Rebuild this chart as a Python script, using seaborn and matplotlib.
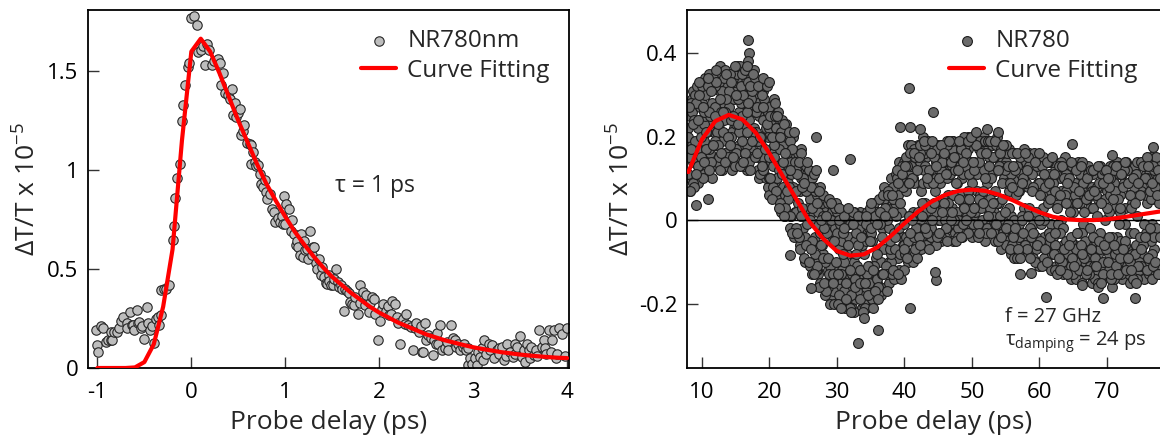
import numpy as np
import pandas as pd
import matplotlib
matplotlib.use("Agg")
import matplotlib.pyplot as plt
import seaborn as sns

# ---------------- Left panel: NR780nm, fast decay ----------------
left_delay = [-1.02, -1.0, -0.99, -0.96, -0.94, -0.91, -0.89, -0.86, -0.85, -0.84, -0.82, -0.79, -0.77, -0.75,
              -0.73, -0.69, -0.68, -0.65, -0.63, -0.62, -0.61, -0.58, -0.57, -0.56, -0.54, -0.52, -0.5, -0.47,
              -0.46, -0.44, -0.42, -0.4, -0.38, -0.36, -0.34, -0.32, -0.32, -0.29, -0.27, -0.24,
              -0.2, -0.18, -0.17, -0.15, -0.12, -0.1, -0.085, -0.07, -0.04, -0.025, 0.0, 0.03, 0.06, 0.07,
              0.1, 0.12, 0.15, 0.17, 0.19, 0.22, 0.24, 0.28, 0.31, 0.32, 0.34, 0.36,
              0.39, 0.41, 0.43, 0.44, 0.47, 0.48, 0.5, 0.52, 0.53, 0.55, 0.56, 0.59, 0.62, 0.63, 0.64, 0.66,
              0.68, 0.69, 0.71, 0.73, 0.74, 0.76, 0.78, 0.8, 0.81, 0.84, 0.86, 0.88, 0.89, 0.92, 0.94, 0.96,
              0.98, 0.99, 1.0, 1.01, 1.04, 1.06, 1.07, 1.09, 1.11, 1.13, 1.14, 1.16, 1.17, 1.19, 1.2, 1.21,
              1.23, 1.24, 1.26, 1.28, 1.29, 1.31, 1.33, 1.34, 1.36, 1.38, 1.39, 1.41, 1.43, 1.44, 1.46, 1.47,
              1.49, 1.51, 1.52, 1.54, 1.56, 1.57, 1.59, 1.6, 1.62, 1.64, 1.66, 1.68, 1.69, 1.71, 1.73, 1.74,
              1.77, 1.79, 1.8, 1.83, 1.85, 1.86, 1.89, 1.9, 1.92, 1.94, 1.96, 1.99, 2.01, 2.03, 2.04, 2.07,
              2.09, 2.1, 2.12, 2.14, 2.17, 2.19, 2.2, 2.22, 2.25, 2.27, 2.28, 2.31, 2.34, 2.36, 2.38, 2.39,
              2.42, 2.44, 2.45, 2.47, 2.49, 2.5, 2.52, 2.55, 2.57, 2.58, 2.6, 2.62, 2.63, 2.65, 2.67, 2.7,
              2.72, 2.73, 2.76, 2.79, 2.81, 2.82, 2.84, 2.86, 2.89, 2.9, 2.92, 2.94, 2.95, 2.97, 2.99, 3.02,
              3.04, 3.05, 3.07, 3.09, 3.1, 3.12, 3.14, 3.17, 3.18, 3.2, 3.22, 3.25, 3.27, 3.28, 3.31, 3.33,
              3.35, 3.36, 3.39, 3.42, 3.44, 3.45, 3.47, 3.5, 3.52, 3.54, 3.55, 3.57, 3.59, 3.6, 3.62, 3.65,
              3.67, 3.68, 3.7, 3.73, 3.75, 3.76, 3.78, 3.81, 3.83, 3.84, 3.86, 3.88, 3.89, 3.91, 3.95, 3.98,
              4.0]
left_signal = [0.19, 0.116, 0.082, 0.21, 0.2, 0.133, 0.14, 0.14, 0.183, 0.14, 0.183, 0.18, 0.2, 0.24,
               0.26, 0.226, 0.2, 0.285, 0.215, 0.217, 0.19, 0.293, 0.23, 0.234, 0.2, 0.21, 0.145, 0.306,
               0.226, 0.19, 0.21, 0.128, 0.246, 0.26, 0.217, 0.27, 0.394, 0.4, 0.4, 0.42,
               0.646, 0.72, 0.86, 0.96, 1.03, 1.25, 1.33, 1.43, 1.52, 1.54, 1.77, 1.78, 1.735, 1.6,
               1.61, 1.63, 1.53, 1.64, 1.61, 1.53, 1.55, 1.56, 1.54, 1.43, 1.49, 1.39,
               1.38, 1.36, 1.41, 1.28, 1.34, 1.27, 1.29, 1.31, 1.18, 1.2, 1.23, 1.14, 1.135, 1.03, 1.125, 1.09,
               1.04, 1.02, 1.025, 0.98, 0.93, 0.915, 0.95, 0.89, 0.855, 0.88, 0.805, 0.79, 0.74, 0.76, 0.74, 0.77,
               0.73, 0.87, 0.73, 0.83, 0.805, 0.695, 0.75, 0.68, 0.62, 0.64, 0.61, 0.57, 0.68, 0.56, 0.64, 0.595,
               0.6, 0.55, 0.695, 0.57, 0.61, 0.61, 0.53, 0.5, 0.55, 0.47, 0.51, 0.46, 0.43, 0.425, 0.47, 0.44,
               0.42, 0.42, 0.45, 0.5, 0.435, 0.41, 0.42, 0.4, 0.29, 0.4, 0.39, 0.38, 0.335, 0.325, 0.32, 0.36,
               0.275, 0.33, 0.42, 0.385, 0.32, 0.37, 0.285, 0.33, 0.36, 0.35, 0.275, 0.14, 0.24, 0.3, 0.325, 0.29,
               0.315, 0.27, 0.275, 0.34, 0.325, 0.26, 0.23, 0.12, 0.25, 0.22, 0.275, 0.215, 0.205, 0.09, 0.2, 0.23,
               0.18, 0.21, 0.08, 0.08, 0.23, 0.14, 0.165, 0.15, 0.064, 0.14, 0.12, 0.175, 0.12, 0.215, 0.09, 0.1,
               0.13, 0.09, 0.215, 0.15, 0.14, 0.105, 0.12, 0.09, 0.105, 0.12, 0.09, 0.015, 0.1, 0.05, 0.02, 0.05,
               0.015, 0.08, 0.055, 0.1, 0.04, 0.14, 0.07, 0.12, 0.09, 0.115, 0.05, 0.09, 0.1, 0.07, 0.105, 0.04,
               0.06, 0.12, 0.08, 0.055, 0.12, 0.07, 0.105, 0.16, 0.055, 0.09, 0.03, 0.12, 0.09, 0.05, 0.105, 0.064,
               0.09, 0.06, 0.19, 0.105, 0.14, 0.1, 0.07, 0.19, 0.08, 0.14, 0.19, 0.05, 0.07, 0.2, 0.17, 0.06,
               0.2]

left_fit_delay = [-1.0, -0.9, -0.8, -0.7, -0.6, -0.5, -0.4, -0.3, -0.2, -0.1, 0.0, 0.1, 0.2, 0.3, 0.4, 0.5,
                  0.6, 0.7, 0.8, 0.9, 1.0, 1.1, 1.2, 1.3, 1.4, 1.5, 1.6, 1.7, 1.8, 1.9, 2.0, 2.1, 2.2, 2.3,
                  2.4, 2.5, 2.6, 2.7, 2.8, 2.9, 3.0, 3.1, 3.2, 3.3, 3.4, 3.5, 3.6, 3.7, 3.8, 3.9, 4.0]
left_fit_signal = [0.0, 0.0, 0.0, 0.0, 0.003, 0.03, 0.12, 0.31, 0.6, 1.15, 1.6, 1.665, 1.6, 1.49, 1.37, 1.25,
                   1.14, 1.03, 0.93, 0.845, 0.765, 0.69, 0.625, 0.565, 0.51, 0.46, 0.42, 0.38, 0.345, 0.31,
                   0.28, 0.255, 0.23, 0.21, 0.19, 0.17, 0.155, 0.14, 0.128, 0.116, 0.105, 0.096, 0.088, 0.08,
                   0.074, 0.068, 0.063, 0.059, 0.055, 0.052, 0.05]

left_xticks = [-1, 0, 1, 2, 3, 4]
left_yticks = [0, 0.5, 1, 1.5]
left_yticklabels = ["0", "0.5", "1", "1.5"]

# ---------------- Right panel: NR780, acoustic oscillation ----------------
# two interleaved delay grids (ps); scan values in units of 0.01 (x 10^-5)
right_delay_grid_a = np.arange(8.0, 78.01, 0.25)
right_delay_grid_b = np.arange(8.125, 78.0, 0.25)
right_scan1_centi = [
    22, 10, 29, 17, 16, 29, 22, 10, 28, 19, 34, 15, 23, 32, 13, 27, 18, 35, 23, 31, 12, 27, 32, 20,
    27, 17, 35, 22, 31, 14, 26, 34, 19, 28, 15, 35, 24, 17, 31, 22, 30, 12, 25, 18, 31, 14, 22, 8,
    22, 14, 26, 9, 13, 24, 5, 18, 18, 6, 23, 9, -2, 11, 16, 2, 14, 4, -6, 10, -2, 13, 2, -6,
    5, -10, 2, -4, 6, -10, -3, -16, -8, 2, -15, -2, -3, -19, 1, -12, -16, -7, 2, -10, -5, -21, -12, -1,
    -16, 0, -10, -19, -3, -14, 2, -21, -8, -17, -3, -11, -18, -5, 1, -13, 2, -7, -18, -2, -7, 6, -12, -2,
    10, -8, 3, -13, -9, 14, 2, -4, 14, -4, 18, 1, -8, 10, 13, 1, 18, 0, 7, -5, 4, 15, -2, 18,
    11, -5, 7, 14, 0, 9, 17, 3, 16, -2, 6, 13, 3, 19, -3, 9, 15, 6, 1, 18, -3, 12, 17, 3,
    9, 0, 20, 7, 14, -4, 11, 16, 0, 17, 4, 12, 18, 2, 7, -2, 4, 14, -5, 10, 14, -2, 7, -8,
    0, 16, -5, 10, 7, -8, 12, 3, -5, 8, 16, -2, 13, 1, -7, 7, -11, 9, 3, -4, 8, -7, 14, -1,
    -4, 12, -11, 4, 10, 0, -6, 15, -10, 4, 8, -14, 2, -6, 13, -3, -12, 7, -1, 10, 5, -9, 3, -15,
    11, -5, -12, 5, -3, 8, -14, 0, 7, -8, 13, -6, -10, 3, -4, 11, 6, -14, 9, -1, -7, 12, -3, 4,
    13, -9, 1, -12, -4, 8, -14, 11, 4, -10, 15, -1, -7, 10, -3, 13, 7]
right_scan2_centi = [
    11, 25, 18, 31, 30, 17, 9, 24, 13, 23, 30, 17, 35, 16, 28, 21, 27, 14, 33, 19, 31, 24, 16, 35,
    14, 30, 21, 33, 23, 35, 18, 28, 33, 22, 30, 12, 35, 15, 27, 19, 21, 28, 10, 32, 24, 11, 28, 20,
    6, 24, 13, 29, 22, 8, 17, 2, 8, 21, 2, 12, 14, 6, 20, -3, -2, 16, 7, 1, 11, -10, 7, 3,
    -11, 10, -6, 7, -1, -13, 8, -6, 3, -18, -3, -12, -11, 2, -17, -2, 2, -14, -20, -5, -17, 0, -8, -13,
    -5, -21, 2, -13, -11, -2, -18, -6, 1, -21, -13, -2, -3, -15, 4, -9, -15, 0, -10, 5, 5, -16, 0, -10,
    -10, 5, -3, 11, 6, -12, 10, -6, -6, 7, -10, 11, 18, 2, 9, -5, -2, 14, -7, 9, 16, 2, 9, -5,
    -2, 18, 4, 10, 15, -3, 12, 5, -4, 10, 17, 2, 13, 6, -1, 18, -2, 13, 10, 4, 18, 1, 7, 14,
    3, 19, -3, 11, 17, 6, 0, 20, -5, 9, 15, 1, 11, -3, 19, 4, 16, 0, 5, 13, -4, 9, 17, 1,
    12, -9, 6, -3, -1, 14, -7, 9, 14, -6, 3, -9, -1, 16, -4, 9, 12, -1, -10, 6, -6, 4, 11, -12,
    14, -6, 6, -1, -10, 7, -2, 11, 7, -12, 12, -5, -9, 9, -14, 4, 11, -3, 6, -10, -6, 13, -2, 8,
    3, -14, 8, -8, 13, -6, -11, 5, -13, 2, 6, -16, 9, -8, 14, -1, -5, 11, -11, 3, 12, -13, 6, -8,
    -3, 8, -14, 10, 7, -8, 13, -3, -12, 11, -5, 5, 12, -2, 9, -13, -4]
right_scan3_centi = [
    20, 7, 26, 14, 19, 32, 13, 27, 32, 11, 25, 21, 17, 25, 10, 32, 32, 21, 15, 37, 19, 34, 26, 13,
    31, 24, 12, 29, 17, 37, 21, 32, 25, 13, 34, 18, 14, 29, 21, 36, 26, 15, 33, 20, 15, 29, 10, 26,
    27, 16, 8, 20, 7, 26, 12, 21, 14, 1, 20, 5, 19, 1, 8, 14, 2, 12, -7, 17, 10, -4, 13, 0,
    0, -13, 8, -8, -12, 2, -15, 4, 6, -10, 0, -16, -20, -5, -14, 3, -3, -18, -1, -12, -10, 2, -19, -4,
    -1, -13, -22, -5, -17, 1, -12, -4, -20, -5, 2, -15, 0, -19, -11, 2, -8, 5, -17, 1, 8, -11, 3, -15,
    -8, 8, -14, 1, 12, -2, -14, 8, -1, 15, -5, 9, 13, -10, 17, -2, 2, 16, -4, 20, 13, -6, 19, 0,
    -4, 9, 16, 2, 18, 0, -5, 14, 0, 19, 4, 11, 17, -5, 12, 2, 0, 19, -4, 11, 13, 5, 20, -1,
    -4, 14, 2, 18, 5, 19, -2, 12, 19, -2, 13, 5, 1, 15, -5, 20, 13, -7, 9, -2, -6, 16, 3, 11,
    16, 0, -6, 13, -4, 11, 1, 17, 9, -8, 13, -4, -9, 8, 2, 14, 9, -6, 15, 0, -9, 14, -3, 7,
    9, -12, 11, -8, -3, 14, -13, 6, 11, -8, 2, -11, -13, 6, -7, 14, 4, -15, 9, -5, -9, 11, -11, 7,
    12, -9, 1, -15, -7, 11, -10, 9, 3, -12, 10, -4, -14, 7, -7, 13, 2, -10, 12, -6, -11, 9, -15, 6,
    8, -6, 14, -10, -11, 14, -1, 6, 10, -13, 5, -8, -4, 15, -11, 4, 12]
right_scan4_centi = [
    15, 28, 9, 24, 28, 13, 33, 20, 10, 26, 17, 32, 26, 14, 34, 19, 33, 18, 12, 26, 21, 36, 29, 15,
    35, 20, 25, 13, 16, 29, 37, 19, 30, 16, 26, 33, 12, 31, 20, 34, 27, 19, 11, 30, 12, 32, 23, 15,
    25, 5, 18, 28, 10, 20, 4, 24, 23, 3, 16, 8, 1, 17, -4, 12, 11, -4, 16, 3, -9, 7, -1, 12,
    8, -5, 11, -12, -11, 7, -6, 1, -2, -17, 4, -13, 0, -13, -20, 4, -20, 0, -13, -3, 1, -15, -6, -21,
    -18, 2, -14, -3, -6, -19, 0, -15, -21, -1, -11, 3, -2, -21, 1, -14, -16, -1, -13, 6, 3, -13, 7, -7,
    -13, 2, -7, 10, 9, -8, 13, -12, -8, 13, 1, 16, 10, -4, 15, -9, -4, 18, 1, 12, 18, -3, 12, 3,
    0, 15, -6, 17, 10, -4, 14, 4, -2, 18, 2, 14, 19, 0, 9, -4, 5, 17, -1, 20, 16, -3, 11, 2,
    -1, 12, 18, -4, 14, 3, 7, 19, -3, 19, 3, 10, 15, -1, 18, -5, 1, 17, -3, 12, 18, -1, 9, -6,
    -4, 12, -9, 7, 15, 0, 10, -6, -7, 15, -2, 11, 8, -10, 13, 0, -5, 13, -9, 8, 14, -3, 5, -8,
    -8, 7, -13, 13, 6, -10, 10, -5, -13, 10, -4, 13, 8, -10, 4, -12, -6, 14, -9, 5, 10, -13, 12, -4,
    -11, 6, -16, 9, 4, -13, 12, -7, -10, 8, -14, 13, 12, -11, 5, -9, -13, 8, -5, 14, 9, -10, 3, -14,
    -8, 11, -11, 6, 14, -6, 10, -12, -9, 7, -14, 13, 8, -11, 12, -4]
right_scan5_centi = [
    27, 17, 23, 8, 11, 24, 30, 15, 27, 14, 21, 34, 12, 31, 18, 25, 36, 23, 29, 16, 26, 14, 35, 20,
    18, 33, 15, 37, 30, 23, 13, 35, 14, 36, 21, 28, 32, 19, 35, 15, 16, 32, 20, 13, 27, 17, 32, 10,
    10, 20, 15, 25, 25, 3, 20, 11, 1, 16, 7, 21, 12, -3, 21, 7, -3, 14, 1, 8, 9, -6, 14, -10,
    -7, 3, -13, 12, 4, -16, 0, -9, -15, 1, -9, 5, 4, -15, -5, -10, -13, 3, -21, -8, -2, -19, 3, -12,
    -22, -1, -16, -8, 1, -15, -4, -22, -15, 1, -18, -5, 4, -12, -17, -1, -19, 2, -4, -13, 1, -17, 6, -5,
    6, -12, -4, 12, -13, 4, 11, -7, 13, -9, 9, -3, 0, 16, -7, 12, 15, -6, 4, 19, -2, 10, -7, 16,
    19, 4, 13, -4, -3, 18, 2, 16, 11, -5, 19, 0, 2, 15, -5, 12, 19, -4, 14, 3, 0, 19, 5, 20,
    14, 3, 21, -1, -3, 16, 4, 10, 16, 1, 19, -3, 4, 19, -1, 12, 16, -4, 18, 2, -2, 13, -7, 8,
    13, -2, 16, -7, -9, 9, -3, 16, 12, 1, -9, 7, -3, 14, -6, 16, 6, -11, 11, -7, -10, 9, -4, 15,
    11, -3, 3, -9, -12, 13, -7, 4, 9, -6, 14, -9, -11, 12, -3, 7, 13, -8, 2, -13, -12, 6, -7, 12,
    7, -11, 13, -5, -15, 9, -6, 12, 10, -4, -13, 5, -6, 13, -13, 3, 11, -7, 14, -12, -9, 6, -12, 10,
    4, -15, 9, -4, -7, 13, -4, 15, 13, -2, 9, -11, -10, 6, -13, 10]
right_extra_delay = [16.9, 17.0, 16.9, 16.75, 40.7, 44.2, 33.2, 36.1, 34.0, 26.9, 32.0, 29.5, 23.1, 26.1,
                     40.9, 9.1, 10.9, 61.0, 70.7, 76.9, 66.3, 69.5, 74.1, 57.2, 58.8, 44.7, 44.5, 52.2,
                     53.8, 39.3, 40.8, 42.3, 64.8, 19.0, 20.0, 8.3]
right_extra_signal = [0.43, 0.40, 0.38, 0.37, 0.317, 0.26, -0.293, -0.263, -0.235, 0.2, 0.147, 0.12, -0.084,
                      -0.163, -0.21, 0.036, 0.05, -0.183, 0.155, 0.175, -0.155, -0.187, -0.187, -0.13, -0.126,
                      -0.143, -0.124, 0.217, 0.211, 0.223, 0.223, 0.219, 0.182, 0.34, 0.33, 0.07]

right_fit_delay = [8, 10, 12, 14, 16, 18, 20, 22, 24, 26, 28, 30, 32, 34, 36, 38, 40, 42, 44, 46, 48, 50,
                   52, 54, 56, 58, 60, 62, 64, 66, 68, 70, 72, 74, 76, 78]
right_fit_signal = [0.115, 0.193, 0.237, 0.252, 0.241, 0.209, 0.16, 0.105, 0.05, -0.005, -0.045, -0.074,
                    -0.085, -0.082, -0.065, -0.038, -0.008, 0.02, 0.044, 0.06, 0.07, 0.073, 0.07, 0.061,
                    0.048, 0.033, 0.019, 0.008, 0.002, 0.0, 0.0, 0.002, 0.006, 0.011, 0.016, 0.021]

right_xticks = [10, 20, 30, 40, 50, 60, 70]
right_yticks = [-0.2, 0, 0.2, 0.4]
right_yticklabels = ["-0.2", "0", "0.2", "0.4"]

# ---------------- build tables ----------------
left_df = pd.DataFrame({"delay": left_delay, "signal": left_signal})
left_fit_df = pd.DataFrame({"delay": left_fit_delay, "signal": left_fit_signal})

frames = []
for grid, scan in ((right_delay_grid_a, right_scan1_centi), (right_delay_grid_a, right_scan2_centi),
                   (right_delay_grid_a, right_scan3_centi), (right_delay_grid_b, right_scan4_centi),
                   (right_delay_grid_b, right_scan5_centi)):
    n = min(len(scan), len(grid))
    frames.append(pd.DataFrame({"delay": grid[:n], "signal": np.array(scan[:n]) * 0.01}))
frames.append(pd.DataFrame({"delay": right_extra_delay, "signal": right_extra_signal}))
right_df = pd.concat(frames, ignore_index=True)
right_fit_df = pd.DataFrame({"delay": right_fit_delay, "signal": right_fit_signal})

# ---------------- style ----------------
sns.set_theme(style="white")
FONT = "Open Sans"
plt.rcParams["font.family"] = [FONT, "DejaVu Sans"]
plt.rcParams["mathtext.fontset"] = "custom"
plt.rcParams["mathtext.rm"] = FONT
plt.rcParams["mathtext.it"] = FONT
plt.rcParams["mathtext.bf"] = FONT
plt.rcParams["axes.unicode_minus"] = False

W, H = 1160, 437
fig = plt.figure(figsize=(W / 100, H / 100), dpi=100)
ax1 = fig.add_axes([88 / W, 1 - 368 / H, (569 - 88) / W, (368 - 10) / H])
ax2 = fig.add_axes([687 / W, 1 - 368 / H, (1180 - 687) / W, (368 - 10) / H])

TICK_FS = 16
LABEL_FS = 19
LEG_FS = 17.5

# Left
sns.scatterplot(data=left_df, x="delay", y="signal", ax=ax1, s=46, color="#bdbdbd",
                edgecolor="#262626", linewidth=0.8, label="NR780nm", zorder=2)
sns.lineplot(data=left_fit_df, x="delay", y="signal", ax=ax1, color="#ff0000", linewidth=3.0,
             label="Curve Fitting", estimator=None, sort=False, zorder=3)
ax1.set_xlim(-1.1, 4.02)
ax1.set_ylim(0, 1.81)
ax1.set_xticks(left_xticks)
ax1.set_yticks(left_yticks, left_yticklabels)
ax1.text(1.53, 0.92, "τ = 1 ps", fontsize=16.5, va="center", ha="left")

# Right
sns.scatterplot(data=right_df, x="delay", y="signal", ax=ax2, s=50, color="#6b6b6b",
                edgecolor="#1c1c1c", linewidth=0.8, label="NR780", zorder=2)
ax2.axhline(0, color="black", linewidth=1.0, zorder=2.5)
sns.lineplot(data=right_fit_df, x="delay", y="signal", ax=ax2, color="#ff0000", linewidth=3.0,
             label="Curve Fitting", estimator=None, sort=False, zorder=3)
ax2.set_xlim(7.8, 7.8 + (1180 - 687) / 6.75)
ax2.set_ylim(-0.354, 0.503)
ax2.set_xticks(right_xticks)
ax2.set_yticks(right_yticks, right_yticklabels)
ax2.text(54.9, -0.232, "f = 27 GHz", fontsize=14.5, va="center", ha="left")
ax2.text(54.9, -0.292, "τ$_{\\mathrm{damping}}$ = 24 ps", fontsize=14.5, va="center", ha="left")

for ax in (ax1, ax2):
    ax.set_xlabel("Probe delay (ps)", fontsize=LABEL_FS, labelpad=5)
    ax.set_ylabel("ΔT/T x 10$^{-5}$", fontsize=LABEL_FS)
    ax.tick_params(axis="both", which="both", direction="in", length=8, width=1.0,
                   colors="#333333", labelcolor="black", labelsize=TICK_FS, top=False, right=False,
                   bottom=True, left=True, pad=7)
    ax.tick_params(axis="x", pad=10)
    for sp in ax.spines.values():
        sp.set_color("black")
        sp.set_linewidth(1.3)
    ax.grid(False)

ax1.yaxis.set_label_coords((42 - 88) / 481, 0.5)
ax2.yaxis.set_label_coords((636 - 687) / 493, 0.5)

ax1.legend(loc="upper right", bbox_to_anchor=(1.0, 1.0), frameon=False, fontsize=LEG_FS,
           handlelength=1.45, handletextpad=0.45, labelspacing=0.22, borderaxespad=0.4)
ax2.legend(loc="upper right", bbox_to_anchor=((1157 - 687) / 493, 1.0), frameon=False, fontsize=LEG_FS,
           handlelength=1.45, handletextpad=0.45, labelspacing=0.22, borderaxespad=0.4)

fig.savefig("out.png", dpi=100)
